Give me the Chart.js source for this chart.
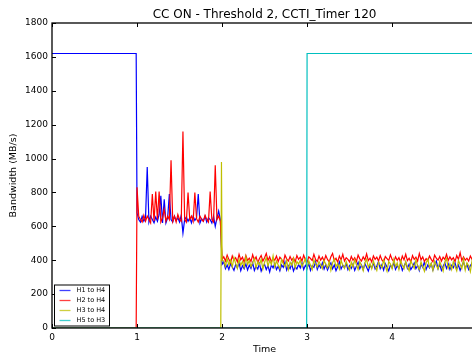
<!DOCTYPE html>
<html><head><meta charset="utf-8">
<script src="https://cdn.jsdelivr.net/npm/chart.js@4"></script>
<style>html,body{margin:0;padding:0;background:#fff;overflow:hidden;width:472px;height:358px}canvas{display:block}</style>
</head><body><canvas id="c" width="484" height="358"></canvas>
<script>
const titleText = "CC ON - Threshold 2, CCTI_Timer 120";
const xAxisLabel = "Time";
const yAxisLabel = "Bandwidth (MB/s)";
const xTicks = [0, 1, 2, 3, 4, 5];
const yTicks = [0, 200, 400, 600, 800, 1000, 1200, 1400, 1600, 1800];
const seriesNames = ["H1 to H4", "H2 to H4", "H3 to H4", "H5 to H3"];
const seriesColors = ["#0000ff", "#ff0000", "#bfbf00", "#00bfbf"];
const sampleStep = 0.02;

// H1 to H4
const h1StepTimes = [0, 0.99];
const h1StepValues = [1620, 1620];
const h1MidStart = 1.00;
const h1MidValues = [680, 640, 625, 660, 630, 650, 950, 625, 660, 640, 620, 655, 630, 670, 780, 620, 760, 620, 650, 790,
  640, 625, 660, 635, 650, 625, 665, 560, 640, 655, 630, 650, 620, 660, 635, 650, 790, 620, 645, 630,
  660, 625, 650, 640, 620, 660, 600, 650, 690, 640];
const h1LateStart = 2.00;
const h1LateValues = [375,
  390, 350, 372, 345, 380, 360, 340, 375, 355, 385, 338, 368, 350, 378, 342,
  370, 352, 385, 340, 365, 348, 380, 335, 362, 375, 345, 368, 330, 372, 355,
  380, 345, 365, 338, 372, 358, 390, 342, 368, 350, 378, 336, 362, 348, 375,
  355, 385, 345, 370, 352, 380, 340, 368, 358, 392, 346, 372, 355, 385, 348,
  375, 342, 366, 385, 350, 372, 338, 362, 390, 348, 370, 356, 382, 344, 368,
  352, 378, 340, 365, 388, 350, 372, 345, 380, 358, 336, 370, 355, 384, 348,
  366, 392, 350, 374, 342, 380, 360, 338, 372, 355, 386, 346, 368, 352, 378,
  340, 365, 388, 352, 376, 345, 362, 384, 350, 370, 338, 375, 358, 390, 346,
  372, 355, 380, 342, 368, 395, 350, 374, 340, 365, 385, 352, 378, 345, 370,
  356, 384, 348, 372, 340, 366, 390, 352, 376, 345, 368, 382, 355];

// H2 to H4
const h2StepTimes = [0, 0.99];
const h2StepValues = [0, 0];
const h2MidStart = 1.00;
const h2MidValues = [830, 660, 640, 625, 665, 630, 660, 640, 620, 790, 630, 805, 640, 805, 625, 650, 700, 630, 660, 640,
  990, 630, 660, 625, 670, 640, 630, 1160, 640, 625, 800, 640, 660, 630, 800, 645, 625, 660, 640, 630,
  665, 640, 625, 805, 640, 625, 960, 640, 660, 630];
const h2LateStart = 2.00;
const h2LateValues = [405,
  420, 395, 430, 405, 385, 425, 400, 415, 390, 435, 402, 418, 388, 428, 398,
  412, 392, 432, 400, 420, 385, 410, 428, 395, 415, 440, 398, 420, 390, 412,
  400, 425, 392, 418, 405, 385, 430, 408, 395, 422, 400, 415, 390, 428, 405,
  418, 395, 430, 402, 388, 420, 410, 398, 435, 405, 392, 425, 400, 418, 395,
  428, 405, 390, 420, 440, 398, 412, 388, 425, 402, 435, 395, 415, 405, 390,
  422, 400, 415, 392, 430, 408, 395, 420, 402, 438, 398, 412, 390, 425, 405,
  418, 395, 428, 402, 390, 422, 410, 398, 432, 405, 392, 420, 400, 415, 388,
  425, 402, 435, 398, 412, 390, 428, 405, 418, 395, 440, 402, 420, 392, 410,
  398, 425, 405, 390, 430, 412, 400, 422, 395, 418, 405, 435, 398, 420, 402,
  415, 392, 428, 405, 445, 398, 420, 400, 412, 395, 425, 405, 418];

// H3 to H4
const h3StepTimes = [0, 1.985, 1.993];
const h3StepValues = [0, 0, 980];
const h3LateStart = 2.00;
const h3LateValues = [400,
  395, 365, 410, 372, 400, 360, 415, 380, 352, 405, 370, 392, 358, 420, 375,
  398, 362, 385, 410, 355, 392, 372, 405, 348, 388, 415, 365, 398, 375, 425,
  360, 395, 372, 350, 405, 380, 362, 398, 345, 388, 370, 410, 355, 392, 378,
  400, 362, 385, 408, 352, 395, 370, 345, 402, 378, 360, 392, 372, 350, 398,
  375, 355, 392, 340, 385, 405, 362, 380, 348, 398, 370, 352, 392, 365, 342,
  388, 360, 402, 375, 345, 392, 368, 338, 385, 405, 358, 380, 350, 395, 365,
  340, 388, 372, 355, 400, 365, 335, 392, 378, 350, 405, 362, 385, 345, 398,
  372, 350, 392, 360, 338, 395, 375, 352, 402, 368, 345, 390, 362, 335, 385,
  405, 358, 382, 340, 395, 370, 348, 392, 365, 335, 388, 410, 352, 378, 345,
  392, 362, 338, 398, 375, 350, 405, 342, 385, 368, 332, 395, 360];

// H5 to H3
const h5StepTimes = [0, 2.995, 3.0, 5.0];
const h5StepValues = [0, 0, 1620, 1620];

function buildPoints(stepTimes, stepValues, segments) {
  const pts = stepTimes.map((t, i) => ({ x: t, y: stepValues[i] }));
  segments.forEach(seg => {
    seg.values.forEach((v, i) => pts.push({ x: +(seg.start + i * sampleStep).toFixed(3), y: v }));
  });
  return pts;
}

const seriesPoints = [
  buildPoints(h1StepTimes, h1StepValues, [{ start: h1MidStart, values: h1MidValues }, { start: h1LateStart, values: h1LateValues }]),
  buildPoints(h2StepTimes, h2StepValues, [{ start: h2MidStart, values: h2MidValues }, { start: h2LateStart, values: h2LateValues }]),
  buildPoints(h3StepTimes, h3StepValues, [{ start: h3LateStart, values: h3LateValues }]),
  buildPoints(h5StepTimes, h5StepValues, [])
];

Chart.defaults.font.family = "'DejaVu Sans', sans-serif";
Chart.defaults.color = '#000';

const framePlugin = {
  id: 'frame',
  afterDatasetsDraw(chart) {
    const ctx = chart.ctx, a = chart.chartArea;
    const xs = chart.scales.x, ys = chart.scales.y;
    ctx.save();
    ctx.strokeStyle = '#000';
    ctx.lineWidth = 1;
    ctx.beginPath();
    xTicks.forEach(t => {
      const px = Math.round(xs.getPixelForValue(t)) + 0.5;
      ctx.moveTo(px, a.bottom); ctx.lineTo(px, a.bottom - 4);
      ctx.moveTo(px, a.top); ctx.lineTo(px, a.top + 4);
    });
    yTicks.forEach(v => {
      const py = Math.round(ys.getPixelForValue(v)) + 0.5;
      ctx.moveTo(a.left, py); ctx.lineTo(a.left + 4, py);
      ctx.moveTo(a.right, py); ctx.lineTo(a.right - 4, py);
    });
    ctx.stroke();
    ctx.lineWidth = 1.3;
    ctx.strokeRect(a.left, a.top, a.right - a.left, a.bottom - a.top);
    // legend
    const lx = a.left + 2.5, ly = a.bottom - 43, lw = 55, lh = 41;
    ctx.fillStyle = '#fff';
    ctx.fillRect(lx, ly, lw, lh);
    ctx.lineWidth = 1;
    ctx.strokeStyle = '#000';
    ctx.strokeRect(lx, ly, lw, lh);
    ctx.font = "6.5px 'DejaVu Sans'";
    ctx.textBaseline = 'middle';
    seriesNames.forEach((n, i) => {
      const y = ly + 5.5 + i * 10;
      ctx.strokeStyle = seriesColors[i];
      ctx.globalAlpha = 0.75;
      ctx.lineWidth = 1.3;
      ctx.beginPath(); ctx.moveTo(lx + 5, y); ctx.lineTo(lx + 16, y); ctx.stroke();
      ctx.globalAlpha = 1;
      ctx.fillStyle = '#000';
      ctx.fillText(n, lx + 22, y);
    });
    // title
    ctx.font = "12px 'DejaVu Sans'";
    ctx.textAlign = 'center';
    ctx.textBaseline = 'middle';
    ctx.fillText(titleText, (a.left + a.right) / 2, 15);
    ctx.restore();
  }
};

new Chart(document.getElementById('c'), {
  type: 'line',
  data: {
    datasets: seriesPoints.map((pts, i) => ({
      label: seriesNames[i],
      data: pts,
      borderColor: seriesColors[i],
      backgroundColor: seriesColors[i],
      borderWidth: 1.2,
      pointRadius: 0,
      tension: 0,
      fill: false,
      order: 4 - i
    }))
  },
  options: {
    responsive: false,
    animation: false,
    layout: { padding: { top: 23, right: 4.6, left: 0, bottom: 0 } },
    plugins: { legend: { display: false }, tooltip: { enabled: false } },
    scales: {
      x: {
        type: 'linear', min: 0, max: 5,
        afterBuildTicks: s => { s.ticks = xTicks.map(v => ({ value: v })); },
        afterFit: s => { s.height = 30; },
        grid: { display: false, drawTicks: false },
        border: { display: false },
        ticks: { font: { size: 9 }, padding: 4, maxRotation: 0, callback: v => String(v) },
        title: { display: true, text: xAxisLabel, font: { size: 9.5 }, padding: { top: 0, bottom: 3 } }
      },
      y: {
        type: 'linear', min: 0, max: 1800,
        afterBuildTicks: s => { s.ticks = yTicks.map(v => ({ value: v })); },
        afterFit: s => { s.width = 52; },
        grid: { display: false, drawTicks: false },
        border: { display: false },
        ticks: { font: { size: 9 }, padding: 4, callback: v => String(v) },
        title: { display: true, text: yAxisLabel, font: { size: 9.5 }, padding: { top: 8, bottom: 0 } }
      }
    }
  },
  plugins: [framePlugin]
});
</script>
</body></html>
